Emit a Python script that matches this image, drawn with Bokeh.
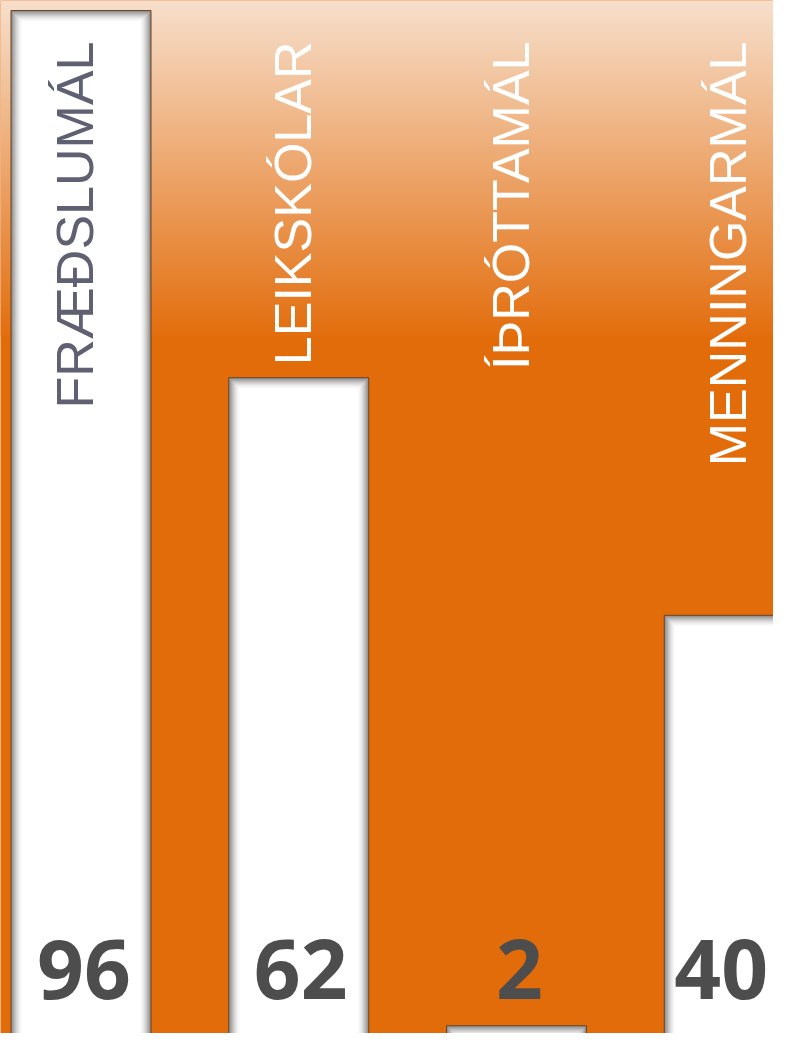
import numpy as np
from bokeh.plotting import figure
from bokeh.models import ColumnDataSource, Range1d
from bokeh.core.properties import value
from bokeh.embed import file_html
from bokeh.resources import INLINE

# ---- data ----
categories = ["FRÆÐSLUMÁL", "LEIKSKÓLAR", "ÍÞRÓTTAMÁL", "MENNINGARMÁL"]
values = [96, 62, 2, 40]
value_labels = ["96", "62", "2", "40"]
label_colors = ["#5f6072", "#ffffff", "#ffffff", "#ffffff"]

# ---- layout helpers (pixel geometry) ----
W, H = 773, 1033
PX_X = 217.75          # pixels per category step
PX_Y = 10.8            # pixels per value unit
BASE = 1046.8          # screen y of value 0
FIRST = 80.5           # screen x of first category centre

def yval(py):
    return (BASE - py) / PX_Y

x0 = -FIRST / PX_X
x_range = Range1d(x0, x0 + W / PX_X)
y_range = Range1d(yval(H), yval(0))

p = figure(width=W, height=H, x_range=x_range, y_range=y_range,
           output_backend="svg", toolbar_location=None, min_border=0)
p.axis.visible = False
p.grid.visible = False
p.outline_line_color = None
p.background_fill_color = "#E36C0A"
p.border_fill_color = "#E36C0A"

# ---- background gradient (top part) ----
grad_end = 336
nrows = grad_end
top_c = np.array([247, 224, 205], dtype=float)
bot_c = np.array([227, 110, 14], dtype=float)
img = np.empty((nrows, 2), dtype=np.uint32)
view = img.view(dtype=np.uint8).reshape((nrows, 2, 4))
for r in range(nrows):
    py = grad_end - r           # row 0 at the bottom of the image
    t = py / grad_end
    c = top_c + (bot_c - top_c) * t
    view[r, :, 0] = int(c[0]); view[r, :, 1] = int(c[1])
    view[r, :, 2] = int(c[2]); view[r, :, 3] = 255
p.image_rgba(image=[img], x=x_range.start, y=yval(grad_end),
             dw=x_range.end - x_range.start, dh=yval(0) - yval(grad_end))

# ---- bars with inner shadow ----
xs = np.arange(len(categories), dtype=float)
vals = np.array(values, dtype=float)
bw = 140 / PX_X
src = ColumnDataSource(dict(left=xs - bw / 2, right=xs + bw / 2, top=vals,
                            bottom=np.zeros_like(vals)))
p.quad(left="left", right="right", top="top", bottom="bottom", source=src,
       fill_color="#8a8a8a", line_color="#6e4420", line_width=1)
N = 11
for j in range(1, N + 1):
    f = (1 - j / N) ** 1.6
    g = int(round(255 - (255 - 138) * f))
    col = "#%02x%02x%02x" % (g, g, g)
    dx = j / PX_X
    dy = j / PX_Y
    s = ColumnDataSource(dict(left=xs - bw / 2 + dx, right=xs + bw / 2 - dx,
                              top=vals - dy, bottom=np.zeros_like(vals)))
    p.quad(left="left", right="right", top="top", bottom="bottom", source=s,
           fill_color=col, line_color=None)

# ---- category labels (vertical) ----
lab_src = ColumnDataSource(dict(x=xs - 6 / PX_X, y=[yval(41)] * len(categories),
                                text=categories, color=label_colors))
p.text(x="x", y="y", text="text", source=lab_src, angle=np.pi / 2,
       text_align="right", text_baseline="alphabetic",
       text_font=value("Liberation Sans"), text_font_size="52px",
       text_color="color")

# ---- value labels ----
val_src = ColumnDataSource(dict(x=xs, y=[yval(968)] * len(values),
                                text=value_labels,
                                dx=[3, 2, 3, -13]))
p.text(x="x", y="y", text="text", source=val_src, x_offset="dx",
       text_align="center", text_baseline="alphabetic",
       text_font=value("Open Sans"), text_font_style="bold",
       text_font_size="82px", text_color="#4d4d4d")

open("out.html", "w").write(file_html(p, INLINE))
